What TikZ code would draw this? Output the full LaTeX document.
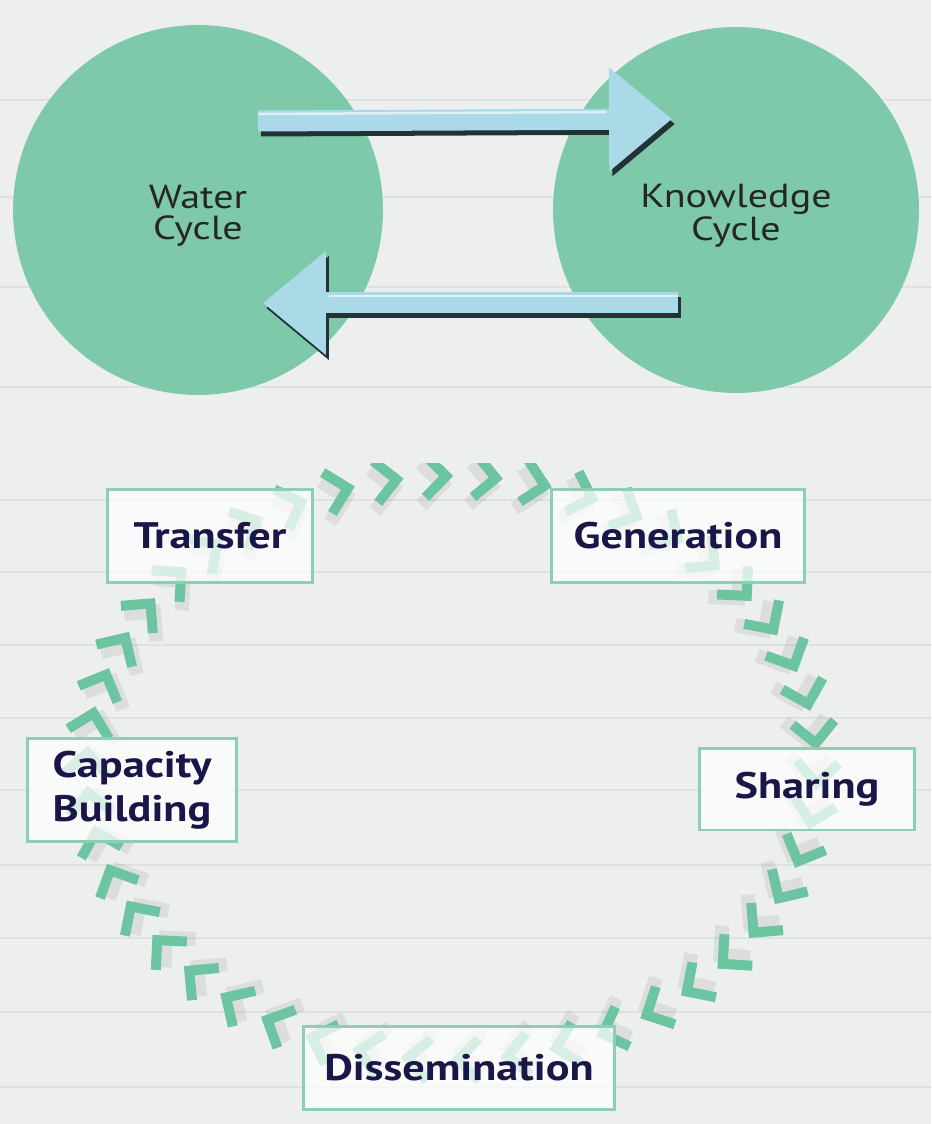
\documentclass[tikz,border=0pt]{standalone}
\usepackage{fontspec}
\setmainfont{PT Sans}
\newfontfamily\widefont[FakeStretch=1.2]{PT Sans}
\usetikzlibrary{arrows.meta,positioning}
\definecolor{cyclegreen}{RGB}{125,201,170}
\definecolor{chevgreen}{RGB}{108,196,160}
\definecolor{boxgreen}{RGB}{140,206,182}
\definecolor{arrowblue}{RGB}{170,218,232}
\definecolor{arrowdark}{RGB}{34,50,56}
\definecolor{labelnavy}{RGB}{27,22,72}
\definecolor{paper}{RGB}{237,239,239}
\definecolor{paperline}{RGB}{221,225,226}
\newcommand{\cyc}[0]{\widefont\fontsize{19}{17.5}\selectfont}
\newcommand{\stg}[0]{\widefont\fontsize{21}{25}\selectfont\bfseries}

\begin{document}
\begin{tikzpicture}[x=0.02cm, y=-0.02cm,
    bigcycle/.style={circle, fill=cyclegreen, minimum size=7.4cm, inner sep=0pt},
    cyclelabel/.style={align=center, text=black!85, font=\cyc, inner sep=0pt},
    flow/.style={line width=0.42cm, arrowblue, -{Triangle[width=2.0cm,length=1.26cm]}},
    flowshadow/.style={line width=0.42cm, arrowdark, -{Triangle[width=2.0cm,length=1.26cm]}},
    stagebox/.style={draw=boxgreen, line width=0.06cm, fill=white, fill opacity=0.72,
                     text opacity=1, text=labelnavy, align=center, font=\stg, inner sep=0pt},
    chev/.style={chevgreen, line width=0.2cm, line join=miter},
    chevshadow/.style={black, opacity=0.07, line width=0.28cm, line join=miter}]
  % paper
  \useasboundingbox (0,0) rectangle (931,1124);
  \fill[paper] (0,0) rectangle (931,1124);
  \foreach \y in {100,197,287,387,500,572,645,718,790,865,938,1012,1087}
    \draw[paperline, line width=0.04cm] (0,\y) -- (931,\y);

  % water cycle <-> knowledge cycle
  \node[bigcycle] (water) at (198,210) {};
  \node[bigcycle, minimum size=7.32cm] (knowledge) at (736,210) {};
  \node[cyclelabel] (watertext) at (198,216) {Water\\Cycle};
  \node[cyclelabel] (knowtext) at (736,216) {Knowledge\\Cycle};
  \coordinate (wout) at (258,121);
  \coordinate (kin) at (672,119);
  \coordinate (kout) at (678,303);
  \coordinate (win) at (263,303);
  \draw[flowshadow] ([shift={(3,5)}]wout) -- ([shift={(3,5)}]kin);
  \draw[flow] (wout) -- (kin);
  \draw[white, opacity=0.6, line width=0.05cm] ([shift={(0,-7)}]wout) -- ([shift={(-66,-7)}]kin);
  \draw[flowshadow] ([shift={(3,5)}]kout) -- ([shift={(3,5)}]win);
  \draw[flow] (kout) -- (win);
  \draw[white, opacity=0.6, line width=0.05cm] ([shift={(0,-7)}]kout) -- ([shift={(66,-7)}]win);

  % chevrons round the knowledge cycle
  \begin{scope}
    \clip (0,463) rectangle (931,1124);
    \foreach \t in {3,10.826,...,362} {
      \pgfmathsetmacro\px{452+365*cos(\t)}
      \pgfmathsetmacro\py{768+292*sin(\t)}
      \pgfmathsetmacro\ang{atan2(-292*cos(\t),-365*sin(\t))}
      \begin{scope}[shift={(\px,\py)}, rotate=\ang]
        \draw[chevshadow] (-25,-13) -- (-4,8) -- (-25,29);
        \draw[chev] (-21,-21) -- (0,0) -- (-21,21);
      \end{scope}
    }
  \end{scope}

  % stages
  \node[stagebox, minimum width=4.12cm, minimum height=1.86cm] (transfer) at (210,536) {Transfer};
  \node[stagebox, minimum width=5.06cm, minimum height=1.86cm] (generation) at (678,536) {Generation};
  \node[stagebox, minimum width=4.2cm, minimum height=2.08cm] (capacity) at (132,790) {Capacity\\Building};
  \node[stagebox, minimum width=4.3cm, minimum height=1.64cm] (sharing) at (807,789) {Sharing};
  \node[stagebox, minimum width=6.24cm, minimum height=1.66cm] (dissemination) at (459,1068) {Dissemination};
\end{tikzpicture}
\end{document}
